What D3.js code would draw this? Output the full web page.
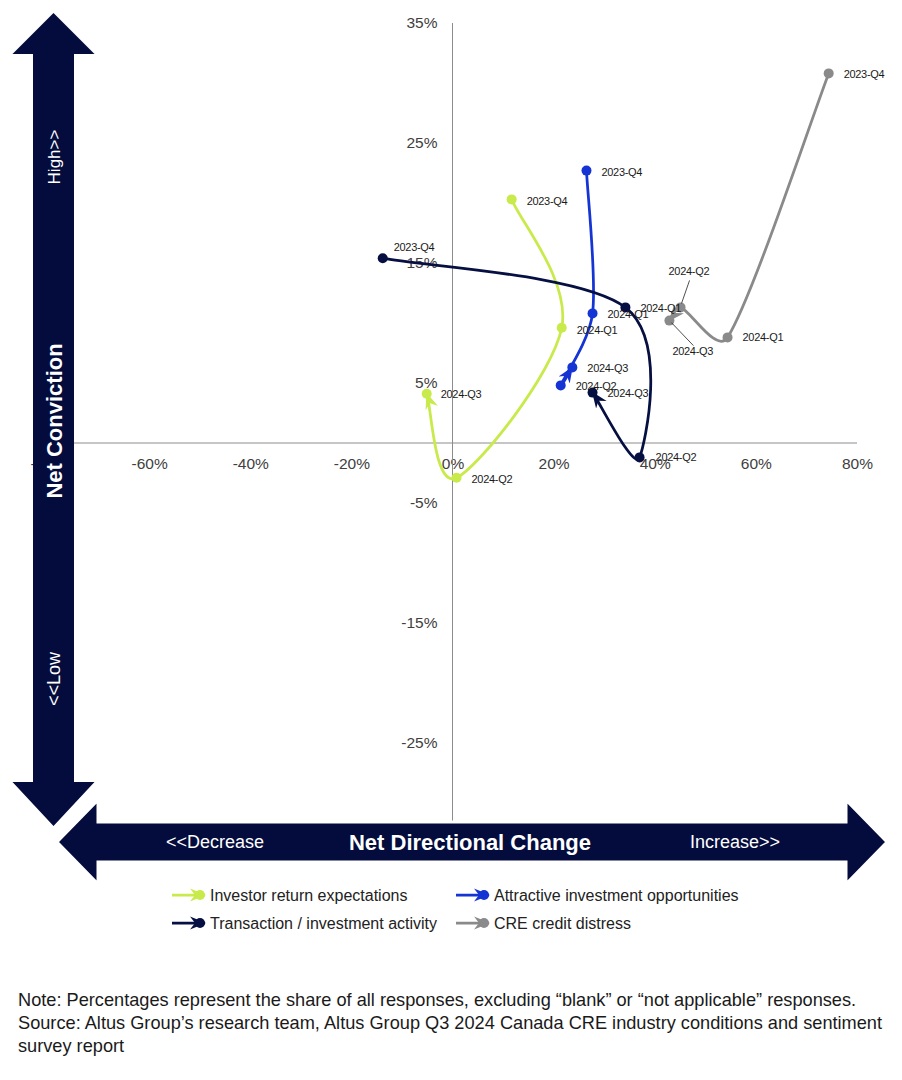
<!DOCTYPE html>
<html>
<head>
<meta charset="utf-8">
<script src="https://cdn.jsdelivr.net/npm/d3@7"></script>
<style>
  body { margin: 0; background: #fff; }
  svg { font-family: "Liberation Sans", Arial, sans-serif; }
</style>
</head>
<body>
<svg id="chart" width="902" height="1080"></svg>
<script>
// quarters in the order each path is drawn
const quarters = ["2023-Q4", "2024-Q1", "2024-Q2", "2024-Q3"];

const seriesNames = [
  "Investor return expectations",
  "Attractive investment opportunities",
  "Transaction / investment activity",
  "CRE credit distress"
];

// net directional change (%)
const investorX    = [11.7, 21.6, 0.8, -5.1];
const attractiveX  = [26.5, 27.7, 21.4, 23.7];
const transactionX = [-13.8, 34.2, 37.0, 27.7];
const distressX    = [74.4, 54.4, 45.1, 42.9];

// net conviction (%)
const investorY    = [20.3, 9.6, -2.9, 4.1];
const attractiveY  = [22.7, 10.8, 4.8, 6.3];
const transactionY = [15.4, 11.3, -1.2, 4.2];
const distressY    = [30.8, 8.8, 11.3, 10.2];

const xTicks = [-80, -60, -40, -20, 0, 20, 40, 60, 80];
const yTicks = [35, 25, 15, 5, -5, -15, -25];

const noteLines = [
  "Note: Percentages represent the share of all responses, excluding \u201cblank\u201d or \u201cnot applicable\u201d responses.",
  "Source: Altus Group\u2019s research team, Altus Group Q3 2024 Canada CRE industry conditions and sentiment",
  "survey report"
];

const colors = ["#c8ea4a", "#1534d4", "#060f42", "#8a8a8a"];
const navy = "#030c3c";

// label offsets from each point: [dx, dy]
const labelOffsets = [
  [[15, 2], [15, 2], [15, 1], [14, 0]],
  [[15, 2], [15, 1], [15, 1], [15, 1]],
  [[11, -11], [15, 1], [16, 0], [15, 1]],
  [[15, 1], [15, 0], [-12, -36], [3, 31]]
];
// leader lines for the crowded grey labels: [x1, y1, x2, y2] relative to point
const leaders = { "3-2": [9, -27, 1, -4], "3-3": [2, 2, 24, 25] };

const series = seriesNames.map((name, i) => {
  const xs = [investorX, attractiveX, transactionX, distressX][i];
  const ys = [investorY, attractiveY, transactionY, distressY][i];
  return { name, color: colors[i], idx: i,
    points: quarters.map((q, j) => ({ q, x: xs[j], y: ys[j], j })) };
});

const svg = d3.select("#chart");

const x = d3.scaleLinear().domain([-80, 80]).range([48, 857]);
const y = d3.scaleLinear().domain([-35, 35]).range([863, 23]);

// arrowhead markers
const defs = svg.append("defs");
series.forEach(s => {
  defs.append("marker")
    .attr("id", "arrow" + s.idx)
    .attr("viewBox", "0 -7 16 14")
    .attr("refX", 15)
    .attr("refY", 0)
    .attr("markerUnits", "userSpaceOnUse")
    .attr("markerWidth", 16)
    .attr("markerHeight", 14)
    .attr("orient", "auto")
    .append("path")
    .attr("d", "M0,-6.5L16,0L0,6.5L5,0Z")
    .attr("fill", s.color);
});

// axes
const xAxis = svg.append("g")
  .attr("transform", `translate(0,${y(0)})`)
  .call(d3.axisBottom(x).tickValues(xTicks).tickSize(0).tickPadding(15).tickFormat(d => d + "%"));
const yAxis = svg.append("g")
  .attr("transform", `translate(${x(0)},0)`)
  .call(d3.axisLeft(y).tickValues(yTicks).tickSize(0).tickPadding(15).tickFormat(d => d + "%"));
[xAxis, yAxis].forEach(a => {
  a.select(".domain").attr("stroke", "#8c8c8c").attr("stroke-width", 1);
  a.selectAll("text").attr("font-size", 15.5).attr("fill", "#404040")
    .attr("font-family", "Liberation Sans, Arial, sans-serif");
});
yAxis.select(".domain").attr("d", `M0,${y(35)}V${y(-35)}`);
xAxis.select(".domain").attr("d", `M${x(-80)},0H${x(80)}`);

// smoothed line, spreadsheet style: cardinal tangents, kept short on short segments
function smoothPath(data) {
  const pts = data.map(d => [x(d.x), y(d.y)]);
  const n = pts.length;
  const p = d3.path();
  p.moveTo(pts[0][0], pts[0][1]);
  const clamp = (v, max) => {
    const len = Math.hypot(v[0], v[1]);
    return len > max ? [v[0] * max / len, v[1] * max / len] : v;
  };
  for (let i = 0; i < n - 1; i++) {
    const p0 = pts[Math.max(i - 1, 0)], p1 = pts[i], p2 = pts[i + 1], p3 = pts[Math.min(i + 2, n - 1)];
    const seg = Math.hypot(p2[0] - p1[0], p2[1] - p1[1]);
    const t1 = clamp([(p2[0] - p0[0]) / 6, (p2[1] - p0[1]) / 6], 0.36 * seg);
    const t2 = clamp([(p3[0] - p1[0]) / 6, (p3[1] - p1[1]) / 6], 0.36 * seg);
    p.bezierCurveTo(p1[0] + t1[0], p1[1] + t1[1], p2[0] - t2[0], p2[1] - t2[1], p2[0], p2[1]);
  }
  return p.toString();
}

const g = svg.append("g");
g.selectAll(".series")
  .data(series)
  .enter()
  .append("path")
  .attr("class", "series")
  .attr("d", d => smoothPath(d.points))
  .attr("fill", "none")
  .attr("stroke", d => d.color)
  .attr("stroke-width", 2.75)
  .attr("marker-end", d => `url(#arrow${d.idx})`);

series.forEach(s => {
  g.selectAll(".pt" + s.idx)
    .data(s.points)
    .enter()
    .append("circle")
    .attr("cx", d => x(d.x))
    .attr("cy", d => y(d.y))
    .attr("r", 5)
    .attr("fill", s.color);
});

// point labels
series.forEach(s => {
  s.points.forEach(p => {
    const off = labelOffsets[s.idx][p.j];
    const px = x(p.x), py = y(p.y);
    const lead = leaders[s.idx + "-" + p.j];
    if (lead) {
      g.append("line")
        .attr("x1", px + lead[0]).attr("y1", py + lead[1])
        .attr("x2", px + lead[2]).attr("y2", py + lead[3])
        .attr("stroke", "#222").attr("stroke-width", 0.8);
    }
    g.append("text")
      .attr("x", px + off[0])
      .attr("y", py + off[1])
      .attr("dy", "0.35em")
      .attr("font-size", 11)
      .attr("letter-spacing", -0.3)
      .attr("fill", "#1a1a1a")
      .text(p.q);
  });
});

// vertical "Net Conviction" arrow
const vcx = 53.5;
svg.append("path")
  .attr("d", d3.line()([
    [vcx, 13], [vcx + 41, 54], [vcx + 20.5, 54], [vcx + 20.5, 782], [vcx + 41, 782],
    [vcx, 826], [vcx - 41, 782], [vcx - 20.5, 782], [vcx - 20.5, 54], [vcx - 41, 54]
  ]) + "Z")
  .attr("fill", navy);

const vText = [["High>>", 157, 17, "normal", 6], ["Net Conviction", 421, 22, "bold", 8], ["<<Low", 679, 18, "normal", 6]];
vText.forEach(t => {
  svg.append("text")
    .attr("transform", `translate(${vcx + t[4]},${t[1]}) rotate(-90)`)
    .attr("text-anchor", "middle")
    .attr("font-size", t[2])
    .attr("font-weight", t[3])
    .attr("fill", "#fff")
    .text(t[0]);
});

// horizontal "Net Directional Change" arrow
const hcy = 842;
svg.append("path")
  .attr("d", d3.line()([
    [57, hcy], [98, hcy - 42], [98, hcy - 20], [846, hcy - 20], [846, hcy - 42],
    [887, hcy], [846, hcy + 42], [846, hcy + 20], [98, hcy + 20], [98, hcy + 42]
  ]) + "Z")
  .attr("fill", navy)
  .attr("stroke", "#fff")
  .attr("stroke-width", 3)
  .attr("stroke-linejoin", "miter");

const hText = [["<<Decrease", 215, 18, "normal", 6], ["Net Directional Change", 470, 22, "bold", 8], ["Increase>>", 735, 18, "normal", 6]];
hText.forEach(t => {
  svg.append("text")
    .attr("x", t[1])
    .attr("y", hcy + t[4])
    .attr("text-anchor", "middle")
    .attr("font-size", t[2])
    .attr("font-weight", t[3])
    .attr("fill", "#fff")
    .text(t[0]);
});

// legend
const legendPos = [[172, 895], [456, 895], [172, 923], [456, 923]];
series.forEach((s, i) => {
  const [lx, ly] = legendPos[i];
  const lg = svg.append("g").attr("transform", `translate(${lx},${ly})`);
  lg.append("line")
    .attr("x1", 0).attr("y1", 0).attr("x2", 33).attr("y2", 0)
    .attr("stroke", s.color).attr("stroke-width", 2.75)
    .attr("marker-end", `url(#arrow${s.idx})`);
  lg.append("circle").attr("cx", 28).attr("cy", 0).attr("r", 5).attr("fill", s.color);
  lg.append("text")
    .attr("x", 38)
    .attr("y", 0)
    .attr("dy", "0.35em")
    .attr("font-size", 16)
    .attr("fill", "#222")
    .text(s.name);
});

// note
svg.append("g")
  .selectAll("text")
  .data(noteLines)
  .enter()
  .append("text")
  .attr("x", 18)
  .attr("y", (d, i) => 1006 + i * 23)
  .attr("font-size", 18.2)
  .attr("fill", "#1a1a1a")
  .text(d => d);
</script>
</body>
</html>
